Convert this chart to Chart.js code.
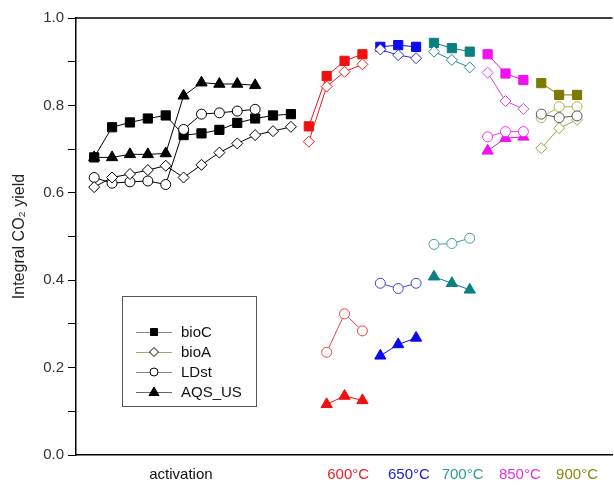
<!DOCTYPE html>
<html>
<head>
<meta charset="utf-8">
<script src="https://cdn.jsdelivr.net/npm/chart.js@4.4.1/dist/chart.umd.min.js"></script>
<style>
  html, body { margin: 0; padding: 0; background: #fff; overflow: hidden; }
  #wrap { width: 620px; height: 488px; }
</style>
</head>
<body>
<div id="wrap"><canvas id="yieldChart" width="620" height="488"></canvas></div>
<script>
// --- data (x = run index) ---
const seriesNames = ['bioC', 'bioA', 'LDst', 'AQS_US'];

// activation (black)
const actX_bioC = [0, 1, 2, 3, 4, 5, 6, 7, 8, 9, 10, 11];
const act_bioC = [0.681, 0.750, 0.761, 0.770, 0.777, 0.732, 0.736, 0.744, 0.760, 0.770, 0.777, 0.780];
const actX_bioA = [0, 1, 2, 3, 4, 5, 6, 7, 8, 9, 10, 11];
const act_bioA = [0.613, 0.635, 0.643, 0.652, 0.662, 0.635, 0.664, 0.692, 0.713, 0.732, 0.741, 0.751];
const actX_LDst = [0, 1, 2, 3, 4, 5, 6, 7, 8, 9];
const act_LDst = [0.635, 0.622, 0.625, 0.627, 0.619, 0.745, 0.780, 0.783, 0.787, 0.791];
const actX_AQS = [0, 1, 2, 3, 4, 5, 6, 7, 8, 9];
const act_AQS = [0.681, 0.681, 0.688, 0.688, 0.690, 0.822, 0.852, 0.849, 0.849, 0.846];

// 600 C (red)
const x600_top = [12, 13, 14, 15];
const t600_bioC = [0.752, 0.867, 0.902, 0.917];
const t600_bioA = [0.717, 0.843, 0.877, 0.894];
const x600 = [13, 14, 15];
const t600_LDst = [0.235, 0.323, 0.284];
const t600_AQS = [0.116, 0.135, 0.125];

// 650 C (blue)
const x650 = [16, 17, 18];
const t650_bioC = [0.934, 0.938, 0.934];
const t650_bioA = [0.928, 0.915, 0.908];
const t650_LDst = [0.393, 0.381, 0.393];
const t650_AQS = [0.227, 0.253, 0.268];

// 700 C (teal)
const x700 = [19, 20, 21];
const t700_bioC = [0.943, 0.931, 0.923];
const t700_bioA = [0.923, 0.904, 0.887];
const t700_LDst = [0.482, 0.484, 0.496];
const t700_AQS = [0.408, 0.393, 0.378];

// 850 C (magenta)
const x850 = [22, 23, 24];
const t850_bioC = [0.917, 0.873, 0.858];
const t850_bioA = [0.875, 0.810, 0.792];
const t850_LDst = [0.728, 0.740, 0.740];
const t850_AQS = [0.696, 0.725, 0.728];

// 900 C (olive) - plus a dark grey open-circle run sitting under the olive points
const x900 = [25, 26, 27];
const t900_bioC = [0.851, 0.824, 0.824];
const t900_bioA = [0.702, 0.748, 0.767];
const t900_LDst = [0.772, 0.797, 0.797];
const t900_dark = [0.780, 0.772, 0.776];

// bottom labels
const xLabels = ['activation', '600°C', '650°C', '700°C', '850°C', '900°C'];
const xLabelPos = [4.85, 14.2, 17.6, 20.6, 23.8, 27.0];
const xLabelColors = ['#111', '#e8202a', '#2020c8', '#2a9a9a', '#e030e0', '#8a8a10'];

const yTicks = [0.0, 0.2, 0.4, 0.6, 0.8, 1.0];

// --- helpers ---
const pts = (xs, ys) => xs.map((x, i) => ({ x: x, y: ys[i] }));

const markerStyle = {
    bioC: { pointStyle: 'rect', radius: 6.5, filled: true },
    bioA: { pointStyle: 'rectRot', radius: 5.5, filled: false },
    LDst: { pointStyle: 'circle', radius: 5, filled: false },
    AQS_US: { pointStyle: 'triangle', radius: 6.5, filled: true }
};

function makeSet(name, xs, ys, color) {
    const m = markerStyle[name];
    return {
        label: name,
        data: pts(xs, ys),
        borderColor: color,
        backgroundColor: m.filled ? color : '#fff',
        pointBackgroundColor: m.filled ? color : '#fff',
        pointBorderColor: color,
        pointStyle: m.pointStyle,
        pointRadius: m.radius,
        pointHoverRadius: m.radius,
        pointBorderWidth: 1,
        borderWidth: 1,
        showLine: true,
        tension: 0
    };
}

const datasets = [
    makeSet('bioA', actX_bioA, act_bioA, '#000'),
    makeSet('LDst', actX_LDst, act_LDst, '#000'),
    makeSet('bioC', actX_bioC, act_bioC, '#000'),
    makeSet('AQS_US', actX_AQS, act_AQS, '#000'),

    makeSet('bioA', x600_top, t600_bioA, '#f01818'),
    makeSet('bioC', x600_top, t600_bioC, '#f01010'),
    makeSet('LDst', x600, t600_LDst, '#f04040'),
    makeSet('AQS_US', x600, t600_AQS, '#f01010'),

    makeSet('bioA', x650, t650_bioA, '#3030d0'),
    makeSet('bioC', x650, t650_bioC, '#0a0af0'),
    makeSet('LDst', x650, t650_LDst, '#4040d8'),
    makeSet('AQS_US', x650, t650_AQS, '#0a0af0'),

    makeSet('bioA', x700, t700_bioA, '#208a8a'),
    makeSet('bioC', x700, t700_bioC, '#0a8080'),
    makeSet('LDst', x700, t700_LDst, '#40a0a0'),
    makeSet('AQS_US', x700, t700_AQS, '#0a8080'),

    makeSet('bioA', x850, t850_bioA, '#e040e0'),
    makeSet('bioC', x850, t850_bioC, '#f010f0'),
    makeSet('LDst', x850, t850_LDst, '#f030f0'),
    makeSet('AQS_US', x850, t850_AQS, '#f010f0'),

    makeSet('LDst', x900, t900_dark, '#555'),
    makeSet('bioA', x900, t900_bioA, '#a0a040'),
    makeSet('LDst', x900, t900_LDst, '#b0b050'),
    makeSet('bioC', x900, t900_bioC, '#7a7a00')
];

// legend drawn inside the plot, like the original inset box
const insetLegend = {
    id: 'insetLegend',
    afterDraw(chart) {
        const c = chart.ctx;
        const box = { x: 122.5, y: 296.5, w: 134, h: 110 };
        c.save();
        c.fillStyle = '#fff';
        c.fillRect(box.x, box.y, box.w, box.h);
        c.strokeStyle = '#555';
        c.lineWidth = 1;
        c.strokeRect(box.x, box.y, box.w, box.h);
        const lineCols = ['#888', '#a8a868', '#888', '#666'];
        c.font = '15px "Liberation Sans", Arial, sans-serif';
        c.textBaseline = 'middle';
        seriesNames.forEach((name, i) => {
            const y = 332 + i * 20;
            c.strokeStyle = lineCols[i];
            c.beginPath();
            c.moveTo(136, y + 0.5);
            c.lineTo(172, y + 0.5);
            c.stroke();
            const m = markerStyle[name];
            c.fillStyle = m.filled ? '#000' : '#fff';
            c.strokeStyle = '#000';
            c.beginPath();
            const cx = 154;
            if (name === 'bioC') {
                c.rect(cx - 3.5, y - 3.5, 7, 7);
            } else if (name === 'bioA') {
                c.moveTo(cx, y - 4.5); c.lineTo(cx + 4.5, y); c.lineTo(cx, y + 4.5); c.lineTo(cx - 4.5, y); c.closePath();
            } else if (name === 'LDst') {
                c.arc(cx, y, 4, 0, Math.PI * 2);
            } else {
                c.moveTo(cx, y - 5); c.lineTo(cx + 5, y + 3.5); c.lineTo(cx - 5, y + 3.5); c.closePath();
            }
            c.fill();
            c.stroke();
            c.fillStyle = '#111';
            c.fillText(name, 181, y + 1);
        });
        // top frame line
        const a = chart.chartArea;
        c.strokeStyle = '#000';
        c.lineWidth = 1.5;
        c.beginPath();
        c.moveTo(a.left, a.top);
        c.lineTo(a.right, a.top);
        c.stroke();
        c.restore();
    }
};

new Chart(document.getElementById('yieldChart'), {
    type: 'scatter',
    data: { datasets: datasets },
    options: {
        responsive: false,
        animation: false,
        layout: { padding: { top: 18, right: 4, left: 0, bottom: 0 } },
        plugins: {
            legend: { display: false },
            tooltip: { enabled: false }
        },
        scales: {
            x: {
                type: 'linear',
                min: -1.017,
                max: 28.983,
                grid: { drawOnChartArea: false, drawTicks: false },
                border: { display: true, color: '#000', width: 1.5 },
                afterBuildTicks: (scale) => { scale.ticks = xLabelPos.map(v => ({ value: v })); },
                afterFit: (scale) => { scale.height = 33; },
                ticks: {
                    autoSkip: false,
                    maxRotation: 0,
                    padding: 11,
                    font: { family: '"Liberation Sans", Arial, sans-serif', size: 15 },
                    color: (ctx) => xLabelColors[ctx.index] || '#000',
                    callback: (v, i) => xLabels[i]
                }
            },
            y: {
                min: 0,
                max: 1.0,
                grid: { drawOnChartArea: false, drawTicks: true, tickLength: 8, tickColor: '#000', tickWidth: 1 },
                border: { display: true, color: '#000', width: 1.5 },
                afterFit: (scale) => { scale.width = 76; },
                ticks: {
                    stepSize: 0.1,
                    padding: 4,
                    color: '#333',
                    font: { family: '"Liberation Sans", Arial, sans-serif', size: 15 },
                    callback: (v) => {
                        const t = yTicks.find(k => Math.abs(k - v) < 1e-6);
                        return t === undefined ? '' : t.toFixed(1);
                    }
                },
                title: {
                    display: true,
                    text: 'Integral CO\u2082 yield',
                    color: '#222',
                    padding: { top: 10, bottom: 0 },
                    font: { family: '"Liberation Sans", Arial, sans-serif', size: 16 }
                }
            }
        }
    },
    plugins: [insetLegend]
});
</script>
</body>
</html>
